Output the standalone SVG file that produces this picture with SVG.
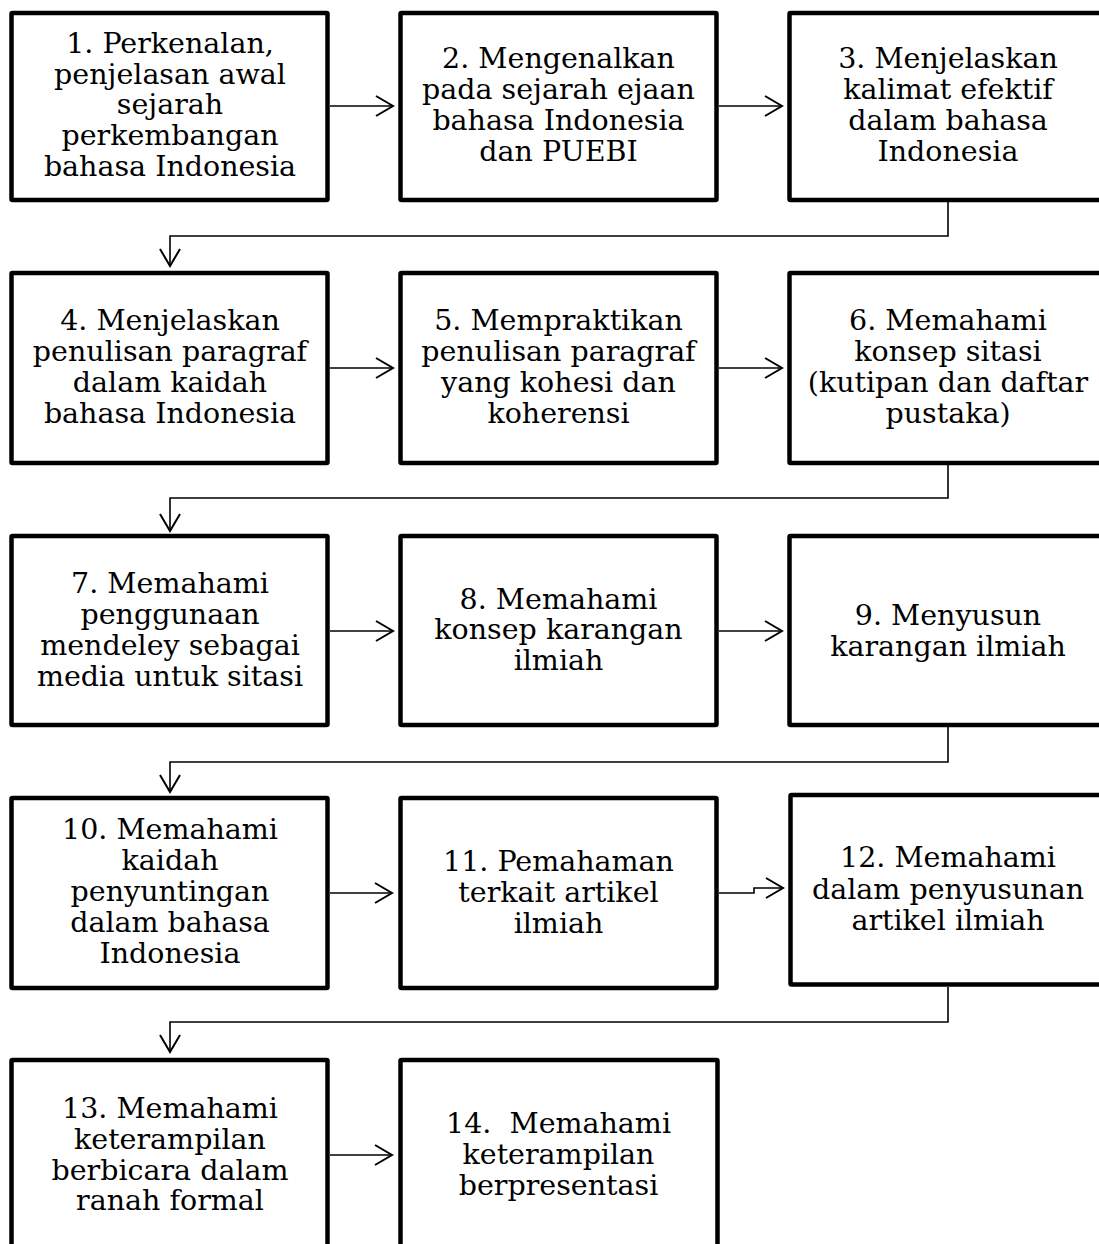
<svg xmlns="http://www.w3.org/2000/svg" width="1099" height="1244" viewBox="0 0 1099 1244">
<defs>
<style>
.box{fill:#fff;stroke:#000;stroke-width:4.5;stroke-linejoin:round}
.lbl{font-family:"DejaVu Serif","Liberation Serif",serif;font-size:28.5px;fill:#000;text-anchor:middle}
.con{fill:none;stroke:#000;stroke-width:1.6}
</style>
<marker id="arr" markerUnits="userSpaceOnUse" markerWidth="22" markerHeight="24" viewBox="0 0 22 24" refX="19" refY="12" orient="auto">
<path d="M2,2 L19,12 L2,22" fill="none" stroke="#000" stroke-width="2"/>
</marker>
</defs>
<rect width="1099" height="1244" fill="#fff"/>
<g id="connectors">
<path class="con" d="M330,106 H393" marker-end="url(#arr)"/>
<path class="con" d="M719,106 H782" marker-end="url(#arr)"/>
<path class="con" d="M948,202 V236 H170 V266" marker-end="url(#arr)"/>
<path class="con" d="M330,368 H393" marker-end="url(#arr)"/>
<path class="con" d="M719,368 H782" marker-end="url(#arr)"/>
<path class="con" d="M948,465 V498 H170 V531" marker-end="url(#arr)"/>
<path class="con" d="M330,631 H393" marker-end="url(#arr)"/>
<path class="con" d="M719,631 H782" marker-end="url(#arr)"/>
<path class="con" d="M948,727 V762 H170 V792" marker-end="url(#arr)"/>
<path class="con" d="M330,893 H392" marker-end="url(#arr)"/>
<path class="con" d="M719,893 H754 V888 H783" marker-end="url(#arr)"/>
<path class="con" d="M948,987 V1022 H170 V1052" marker-end="url(#arr)"/>
<path class="con" d="M330,1155 H392" marker-end="url(#arr)"/>
</g>
<g id="n1"><rect class="box" x="11.5" y="13" width="316" height="187" rx="1"/>
<text class="lbl"><tspan x="170" y="53">1. Perkenalan,</tspan><tspan x="170" y="83.7">penjelasan awal</tspan><tspan x="170" y="114.4">sejarah</tspan><tspan x="170" y="145.1">perkembangan</tspan><tspan x="170" y="175.8">bahasa Indonesia</tspan></text></g>
<g id="n2"><rect class="box" x="400.5" y="13" width="316" height="187" rx="1"/>
<text class="lbl"><tspan x="558.5" y="68">2. Mengenalkan</tspan><tspan x="558.5" y="99">pada sejarah ejaan</tspan><tspan x="558.5" y="130">bahasa Indonesia</tspan><tspan x="558.5" y="161">dan PUEBI</tspan></text></g>
<g id="n3"><rect class="box" x="789.5" y="13" width="317" height="187" rx="1"/>
<text class="lbl"><tspan x="948" y="68">3. Menjelaskan</tspan><tspan x="948" y="99">kalimat efektif</tspan><tspan x="948" y="130">dalam bahasa</tspan><tspan x="948" y="161">Indonesia</tspan></text></g>
<g id="n4"><rect class="box" x="11.5" y="273" width="316" height="190" rx="1"/>
<text class="lbl"><tspan x="170" y="329.5">4. Menjelaskan</tspan><tspan x="170" y="360.5">penulisan paragraf</tspan><tspan x="170" y="391.5">dalam kaidah</tspan><tspan x="170" y="422.5">bahasa Indonesia</tspan></text></g>
<g id="n5"><rect class="box" x="400.5" y="273" width="316" height="190" rx="1"/>
<text class="lbl"><tspan x="558.5" y="329.5">5. Mempraktikan</tspan><tspan x="558.5" y="360.5">penulisan paragraf</tspan><tspan x="558.5" y="391.5">yang kohesi dan</tspan><tspan x="558.5" y="422.5">koherensi</tspan></text></g>
<g id="n6"><rect class="box" x="789.5" y="273" width="317" height="190" rx="1"/>
<text class="lbl"><tspan x="948" y="329.5">6. Memahami</tspan><tspan x="948" y="360.5">konsep sitasi</tspan><tspan x="948" y="391.5">(kutipan dan daftar</tspan><tspan x="948" y="422.5">pustaka)</tspan></text></g>
<g id="n7"><rect class="box" x="11.5" y="536" width="316" height="189" rx="1"/>
<text class="lbl"><tspan x="170" y="592.5">7. Memahami</tspan><tspan x="170" y="623.5">penggunaan</tspan><tspan x="170" y="654.5">mendeley sebagai</tspan><tspan x="170" y="685.5">media untuk sitasi</tspan></text></g>
<g id="n8"><rect class="box" x="400.5" y="536" width="316" height="189" rx="1"/>
<text class="lbl"><tspan x="558.5" y="608.5">8. Memahami</tspan><tspan x="558.5" y="639.2">konsep karangan</tspan><tspan x="558.5" y="669.8">ilmiah</tspan></text></g>
<g id="n9"><rect class="box" x="789.5" y="536" width="317" height="189" rx="1"/>
<text class="lbl"><tspan x="948" y="624.5">9. Menyusun</tspan><tspan x="948" y="655.5">karangan ilmiah</tspan></text></g>
<g id="n10"><rect class="box" x="11.5" y="798" width="316" height="190" rx="1"/>
<text class="lbl"><tspan x="170" y="839.3">10. Memahami</tspan><tspan x="170" y="870.3">kaidah</tspan><tspan x="170" y="901.3">penyuntingan</tspan><tspan x="170" y="932.3">dalam bahasa</tspan><tspan x="170" y="963.3">Indonesia</tspan></text></g>
<g id="n11"><rect class="box" x="400.5" y="798" width="316" height="190" rx="1"/>
<text class="lbl"><tspan x="558.5" y="871">11. Pemahaman</tspan><tspan x="558.5" y="902">terkait artikel</tspan><tspan x="558.5" y="933">ilmiah</tspan></text></g>
<g id="n12"><rect class="box" x="790.5" y="795" width="317" height="189.5" rx="1"/>
<text class="lbl"><tspan x="948" y="867.3">12. Memahami</tspan><tspan x="948" y="898.6">dalam penyusunan</tspan><tspan x="948" y="930">artikel ilmiah</tspan></text></g>
<g id="n13"><rect class="box" x="11.5" y="1060" width="316" height="200" rx="1"/>
<text class="lbl"><tspan x="170" y="1118.3">13. Memahami</tspan><tspan x="170" y="1149">keterampilan</tspan><tspan x="170" y="1179.6">berbicara dalam</tspan><tspan x="170" y="1210.3">ranah formal</tspan></text></g>
<g id="n14"><rect class="box" x="400.5" y="1060" width="317" height="200" rx="1"/>
<text class="lbl" xml:space="preserve"><tspan x="558.5" y="1132.7">14.  Memahami</tspan><tspan x="558.5" y="1163.9">keterampilan</tspan><tspan x="558.5" y="1195">berpresentasi</tspan></text></g>
</svg>
